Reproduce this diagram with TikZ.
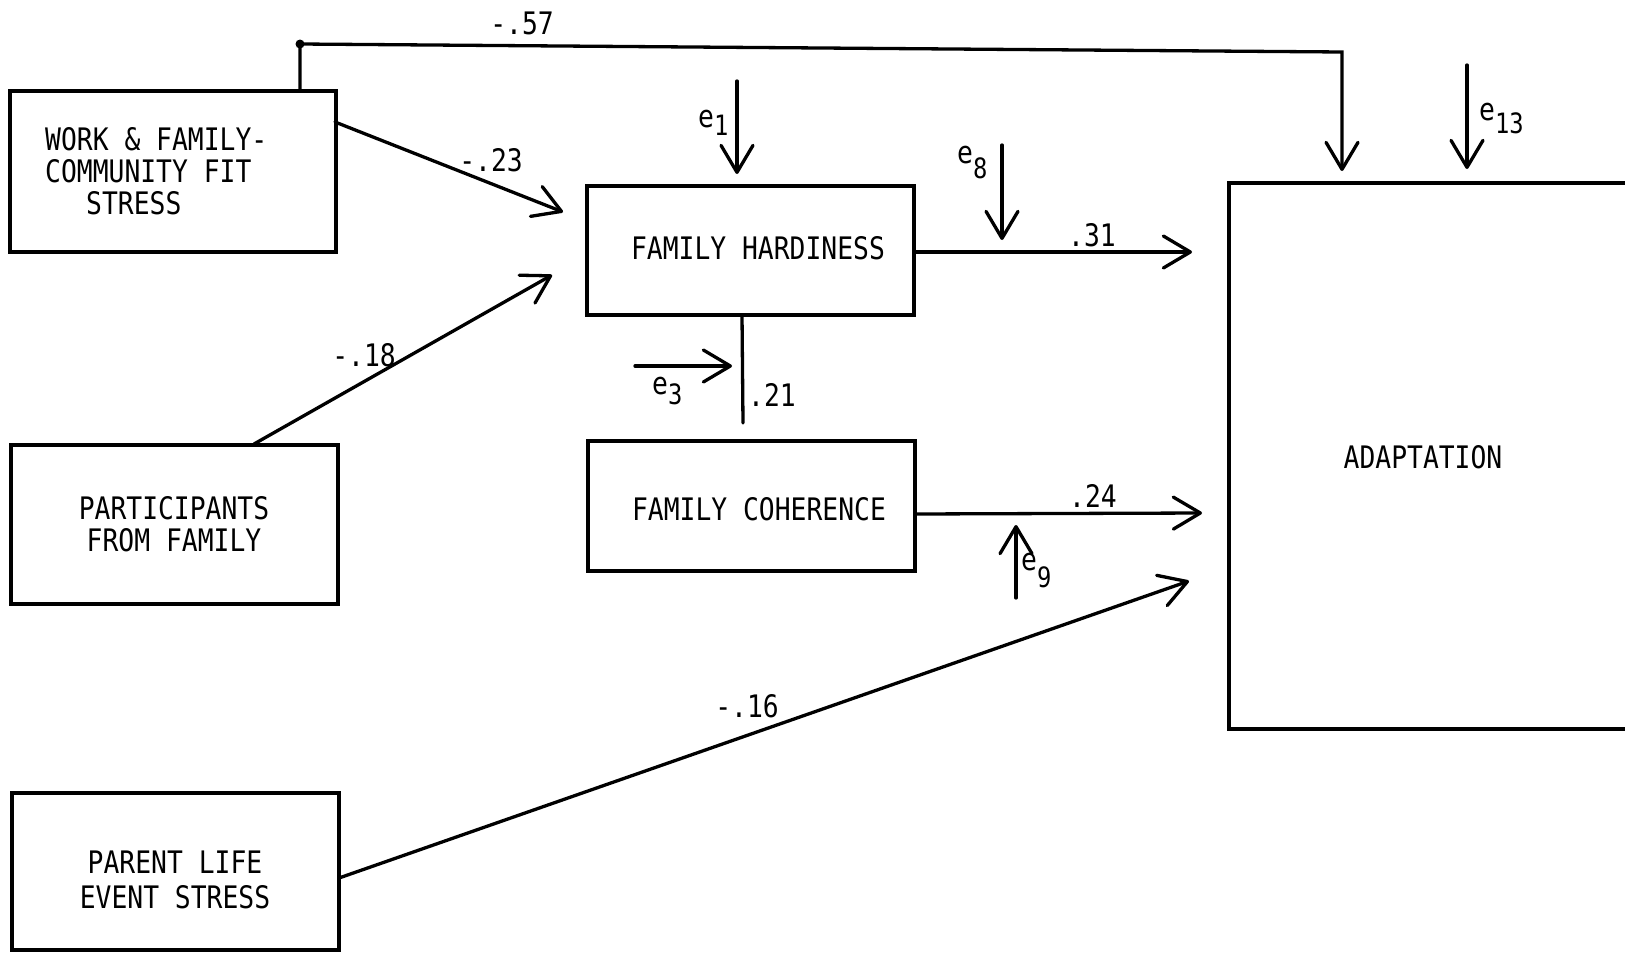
\documentclass[tikz,border=0pt]{standalone}
\usepackage{fontspec}
\setmainfont[FakeStretch=0.85]{DejaVu Sans Mono}
\usetikzlibrary{arrows.meta}
\newcommand\esub[3]{#1\raisebox{-#3pt}{\fontsize{28}{30}\selectfont #2}}
\begin{document}
\begin{tikzpicture}[x=1pt,y=-1pt,
  box/.style={draw, line width=3.3pt, inner sep=0pt},
  txt/.style={font=\fontsize{31}{33}\selectfont, inner sep=0pt, anchor=base},
  lbl/.style={txt},
  elbl/.style={font=\fontsize{31}{33}\selectfont, inner sep=0pt, anchor=base west},
  arr/.style={line width=3.3pt, line cap=round, -{Straight Barb[length=27pt,width=32pt,round]}},
  ln/.style={line width=3.3pt, line cap=round}]
\useasboundingbox (0,0) rectangle (1625,953);
\fill[white] (0,0) rectangle (1625,953);

% boxes
\node[box, minimum width=326pt, minimum height=161pt] (work) at (173,171.5) {};
\node[box, minimum width=327pt, minimum height=159pt] (part) at (174.5,524.5) {};
\node[box, minimum width=327pt, minimum height=157pt] (parent) at (175.5,871.5) {};
\node[box, minimum width=327pt, minimum height=129pt] (hard) at (750.5,250.5) {};
\node[box, minimum width=327pt, minimum height=130pt] (coh) at (751.5,506) {};
\node[box, minimum width=440pt, minimum height=546pt] (adapt) at (1449,456) {};

% box texts
\node[txt, anchor=base west] (w1) at (45,150) {WORK \& FAMILY-};
\node[txt, anchor=base west] (w2) at (45,182) {COMMUNITY FIT};
\node[txt, anchor=base west] (w3) at (86,214) {STRESS};
\node[txt] (p1) at (174,519) {PARTICIPANTS};
\node[txt] (p2) at (174,551) {FROM FAMILY};
\node[txt] (s1) at (175,873) {PARENT LIFE};
\node[txt] (s2) at (175,908) {EVENT STRESS};
\node[txt] (h1) at (758,259) {FAMILY HARDINESS};
\node[txt] (c1) at (759,520) {FAMILY COHERENCE};
\node[txt] (a1) at (1423,468) {ADAPTATION};

% coordinates
\coordinate (wtop) at (300,91);
\coordinate (corner1) at (300,44);
\coordinate (corner2) at (1342,52);
\coordinate (tip57) at (1342,171);
\coordinate (w23) at (335,122);
\coordinate (tip23) at (563,212);
\coordinate (p18) at (254,444);
\coordinate (tip18) at (552,275);
\coordinate (h31) at (914,252);
\coordinate (tip31) at (1192,252);
\coordinate (h21) at (742,315);
\coordinate (end21) at (743,423);
\coordinate (c24) at (915,514);
\coordinate (tip24) at (1202,513);
\coordinate (s16) at (339,878);
\coordinate (tip16) at (1189,581);
\coordinate (e1s) at (737,81);
\coordinate (e1t) at (737,174);
\coordinate (e8s) at (1002,145);
\coordinate (e8t) at (1002,240);
\coordinate (e3s) at (635,366);
\coordinate (e3t) at (732,366);
\coordinate (e9s) at (1016,598);
\coordinate (e9t) at (1016,525);
\coordinate (e13s) at (1467,65);
\coordinate (e13t) at (1467,169);

% connectors
\draw[arr] (wtop) -- (corner1) -- (corner2) -- (tip57);
\fill (corner1) circle (4.5pt);
\draw[arr] (w23) -- (tip23);
\draw[arr] (p18) -- (tip18);
\draw[arr] (h31) -- (tip31);
\draw[ln] (h21) -- (end21);
\draw[arr] (c24) -- (tip24);
\draw[arr] (s16) -- (tip16);
\draw[arr] (e1s) -- (e1t);
\draw[arr] (e8s) -- (e8t);
\draw[arr] (e3s) -- (e3t);
\draw[arr] (e9s) -- (e9t);
\draw[arr] (e13s) -- (e13t);

% path labels
\node[lbl] (l57) at (522,34) {-.57};
\node[lbl] (l23) at (491,171) {-.23};
\node[lbl] (l18) at (364,366) {-.18};
\node[lbl] (l31) at (1092,246) {.31};
\node[lbl] (l21) at (772,406) {.21};
\node[lbl] (l24) at (1093,507) {.24};
\node[lbl] (l16) at (747,717) {-.16};

% error labels
\node[elbl] (le1) at (698,127) {\esub{e}{1}{8}};
\node[elbl] (le8) at (957,163) {\esub{e}{8}{15}};
\node[elbl] (le3) at (652,394) {\esub{e}{3}{10}};
\node[elbl] (le9) at (1021,570) {\esub{e}{9}{17}};
\node[elbl] (le13) at (1479,120) {\esub{e}{13}{13}};
\end{tikzpicture}
\end{document}
